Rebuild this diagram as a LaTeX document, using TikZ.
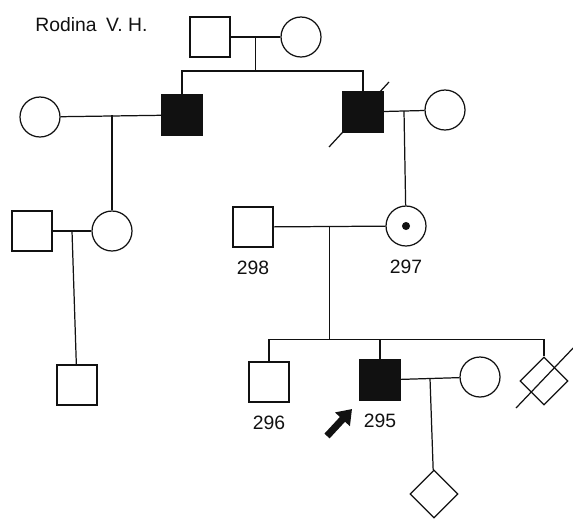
\documentclass[tikz,border=0pt]{standalone}
\usepackage{fontspec}
\setmainfont{Liberation Sans}
\usetikzlibrary{arrows.meta, positioning, shapes.geometric, calc}
\definecolor{pedInk}{HTML}{111111}
\tikzset{
  male/.style={rectangle, draw=pedInk, line width=0.7pt, minimum size=0.8cm, inner sep=0pt},
  female/.style={circle, draw=pedInk, line width=0.7pt, minimum size=0.8cm, inner sep=0pt},
  sexU/.style={diamond, draw=pedInk, line width=0.7pt, minimum size=0.96cm, inner sep=0pt},
  affected/.style={fill=pedInk},
  link/.style={draw=pedInk, line width=0.7pt},
  idLbl/.style={font=\fontsize{11}{13}\selectfont, text=pedInk, inner sep=0pt},
  probandArrow/.style={-{Triangle[length=8pt, width=11pt]}, pedInk, line width=4pt},
}

\begin{document}
\begin{tikzpicture}[x=0.02cm, y=-0.02cm, node distance=0.26cm]
    \useasboundingbox (0,0) rectangle (573,518);
    \node[idLbl, anchor=west] (title) at (35,25) {Rodina\hspace{0.5em}V. H.};
    % generation I
    \node[male] (gpa) at (210,37) {};
    \node[female] (gma) at (301,37) {};
    % generation II
    \node[female] (auntW) at (40,117) {};
    \node[male, affected] (uncle) at (182,115) {};
    \node[male, affected] (father) at (363,112) {};
    \node[female] (fatherW) at (445,110) {};
    % generation III
    \node[male] (cousinH) at (32,231) {};
    \node[female] (cousin) at (112,231) {};
    \node[male] (p298) at (253,227) {};
    \node[female] (p297) at (406,226) {};
    \fill[pedInk] (p297.center) circle[radius=2.3pt];
    \node[idLbl, below=of p298] (l298) {298};
    \node[idLbl, below=of p297] (l297) {297};
    % generation IV
    \node[male] (cousinS) at (77,385) {};
    \node[male] (p296) at (269,382) {};
    \node[male, affected] (p295) at (380,380) {};
    \node[female] (p295W) at (480,377) {};
    \node[sexU] (sibU) at (544,381) {};
    \node[idLbl, below=of p296] (l296) {296};
    \node[idLbl, below=of p295] (l295) {295};
    % generation V
    \node[sexU] (childU) at (434,494) {};

    \coordinate (m0) at ($(gpa)!0.5!(gma)$);
    \coordinate (s0) at ($(m0)+(0,34)$);
    \coordinate (m1) at ($(auntW)!0.5!(uncle)$);
    \coordinate (m2) at ($(father)!0.5!(fatherW)$);
    \coordinate (m3) at ($(cousinH)!0.5!(cousin)$);
    \coordinate (m4) at ($(p298)!0.5!(p297)$);
    \coordinate (s4) at ($(m4)+(0,113)$);
    \coordinate (m5) at ($(p295)!0.5!(p295W)$);

    \draw[link] (gpa) -- (gma);
    \draw[link] (m0) -- (s0);
    \draw[link] (s0) -| (uncle);
    \draw[link] (s0) -| (father);
    \draw[link] (auntW) -- (uncle);
    \draw[link] (m1) -| (cousin);
    \draw[link] (father) -- (fatherW);
    \draw[link] (m2) -- (p297);
    \draw[link] (cousinH) -- (cousin);
    \draw[link] (m3) -- (cousinS);
    \draw[link] (p298) -- (p297);
    \draw[link] (m4) -- (s4);
    \draw[link] (s4) -| (p296);
    \draw[link] (s4) -| (p295);
    \draw[link] (s4) -| (sibU);
    \draw[link] (p295) -- (p295W);
    \draw[link] (m5) -- (childU);
    % deceased
    \draw[link] ($(father)+(-34,35)$) -- ($(father)+(26,-30)$);
    \draw[link] ($(sibU)+(-28,27)$) -- ($(sibU)+(32,-36)$);
    % proband
    \coordinate (pTail) at (327,436);
    \coordinate (pTip) at (352,409);
    \draw[probandArrow] (pTail) -- (pTip);
\end{tikzpicture}
\end{document}
